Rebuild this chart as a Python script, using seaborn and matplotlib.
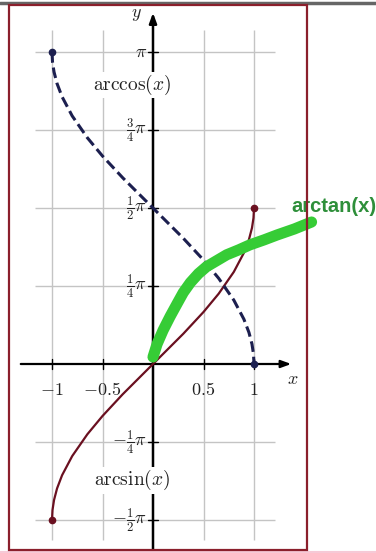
import numpy as np
import matplotlib
matplotlib.use("Agg")
import matplotlib.pyplot as plt
import seaborn as sns
import pandas as pd
from matplotlib.patches import Rectangle
from matplotlib.lines import Line2D

sns.set_style("white")
plt.rcParams['mathtext.fontset'] = 'cm'
plt.rcParams['font.family'] = ['DejaVu Serif']

# values
xs = [-1, -0.995, -0.98, -0.95, -0.9, -0.8, -0.65, -0.5, -0.3, 0,
      0.3, 0.5, 0.65, 0.8, 0.9, 0.95, 0.98, 0.995, 1]
arcsin_vals = [-1.5708, -1.4708, -1.3705, -1.2532, -1.1198, -0.9273, -0.7076, -0.5236, -0.3047, 0,
               0.3047, 0.5236, 0.7076, 0.9273, 1.1198, 1.2532, 1.3705, 1.4708, 1.5708]
arccos_vals = [3.1416, 3.0416, 2.9413, 2.8240, 2.6906, 2.4981, 2.2784, 2.0944, 1.8755, 1.5708,
               1.2661, 1.0472, 0.8632, 0.6435, 0.4510, 0.3176, 0.2003, 0.1000, 0]
# hand drawn green stroke
green_x = [0.0, 0.04, 0.10, 0.17, 0.24, 0.30, 0.37, 0.45, 0.53, 0.63, 0.73, 0.85, 0.96, 1.10, 1.23, 1.40, 1.57]
green_y = [0.07, 0.20, 0.34, 0.48, 0.61, 0.72, 0.82, 0.91, 0.98, 1.04, 1.10, 1.15, 1.20, 1.25, 1.30, 1.36, 1.43]

x_ticks = [-1, -0.5, 0.5, 1]
x_ticklabels = [r"$-1$", r"$-0.5$", r"$0.5$", r"$1$"]
y_ticks = [np.pi, 0.75 * np.pi, 0.5 * np.pi, 0.25 * np.pi, -0.25 * np.pi, -0.5 * np.pi]
y_ticklabels = [r"$\pi$", r"$\frac{3}{4}\pi$", r"$\frac{1}{2}\pi$", r"$\frac{1}{4}\pi$",
                r"$-\frac{1}{4}\pi$", r"$-\frac{1}{2}\pi$"]

W, H = 376, 553
x0, y0, sx, sy = 153, 364, 101, 99.3   # pixel position of origin, px per unit

fig = plt.figure(figsize=(W / 100, H / 100), dpi=100)
ax = fig.add_axes([0, 0, 1, 1])
ax.set_xlim(-x0 / sx, (W - x0) / sx)
ax.set_ylim((y0 - H) / sy, y0 / sy)
ax.axis("off")

gridc = "#c4c4c4"
ax.vlines(x_ticks, (y0 - 540) / sy, (y0 - 30) / sy, color=gridc, lw=1.0, zorder=1)
ax.hlines(y_ticks, (35 - x0) / sx, (275 - x0) / sx, color=gridc, lw=1.0, zorder=1)

# axes with arrows
ax.annotate("", xy=((294 - x0) / sx, 0), xytext=((18 - x0) / sx, 0),
            arrowprops=dict(arrowstyle="-|>,head_length=0.6,head_width=0.22", color="black", lw=1.6),
            zorder=3)
ax.annotate("", xy=(0, (y0 - 10) / sy), xytext=(0, (y0 - H - 2) / sy),
            arrowprops=dict(arrowstyle="-|>,head_length=0.6,head_width=0.22", color="black", lw=1.8),
            zorder=3)
for t in x_ticks:
    ax.plot([t, t], [-0.05, 0.05], color="black", lw=1.0, zorder=3)
for t in y_ticks:
    ax.plot([-0.05, 0.05], [t, t], color="black", lw=1.0, zorder=3)

for t, lab in zip(x_ticks, x_ticklabels):
    ax.text(t, -0.26, lab, ha="center", va="center", fontsize=13, color="#222222")
for t, lab in zip(y_ticks, y_ticklabels):
    ax.text(-0.06, t, lab, ha="right", va="center", fontsize=13, color="#222222")
ax.text(-0.16, 3.52, r"$y$", ha="center", va="center", fontsize=13)
ax.text(1.38, -0.15, r"$x$", ha="center", va="center", fontsize=13)

df = pd.DataFrame({"x": xs, "arcsin": arcsin_vals, "arccos": arccos_vals})
sns.lineplot(data=df, x="x", y="arcsin", ax=ax, color="#6a1020", lw=1.6, zorder=4,
             sort=False, estimator=None)
sns.lineplot(data=df, x="x", y="arccos", ax=ax, color="#1c1f4f", lw=2.2, zorder=4,
             sort=False, estimator=None, dashes=False)
ax.lines[-1].set_dashes((3.5, 1.6))
ax.plot([xs[0], xs[-1]], [arcsin_vals[0], arcsin_vals[-1]], "o", color="#6a1020", ms=4.5,
        zorder=5)
ax.plot([xs[0], xs[-1]], [arccos_vals[0], arccos_vals[-1]], "o", color="#1c1f4f", ms=4.5,
        zorder=5)

gdf = pd.DataFrame({"x": green_x, "y": green_y})
sns.lineplot(data=gdf, x="x", y="y", ax=ax, color="#36cc36", lw=8, zorder=6,
             sort=False, estimator=None)
ax.lines[-1].set_solid_capstyle("round")
ax.lines[-1].set_solid_joinstyle("round")

ax.text(-0.21, 2.81, r"$\mathrm{arccos}(x)$", ha="center", va="center", fontsize=14,
        color="#222222", bbox=dict(fc="white", ec="none", pad=1), zorder=4)
ax.text(-0.21, -1.17, r"$\mathrm{arcsin}(x)$", ha="center", va="center", fontsize=14,
        color="#222222", bbox=dict(fc="white", ec="none", pad=1), zorder=4)
ax.text(1.79, 1.59, "arctan(x)", ha="center", va="center", fontsize=14.5,
        fontweight="bold", family=["Liberation Sans", "DejaVu Sans"], color="#2e8f3a", zorder=7)

# screenshot frame
fig.add_artist(Line2D([0, 1], [1 - 2.5 / H, 1 - 2.5 / H], color="#666666", lw=2.5,
                      transform=fig.transFigure))
fig.add_artist(Rectangle((9 / W, 1 - 550 / H), (307 - 9) / W, (550 - 5) / H, fill=False,
                         ec="#8b1f2c", lw=1.6, transform=fig.transFigure, zorder=10))
fig.add_artist(Line2D([0, 1], [1 - 551.5 / H, 1 - 551.5 / H], color="#f6c9d6", lw=1.5,
                      transform=fig.transFigure))

fig.savefig("out.png", dpi=100)
